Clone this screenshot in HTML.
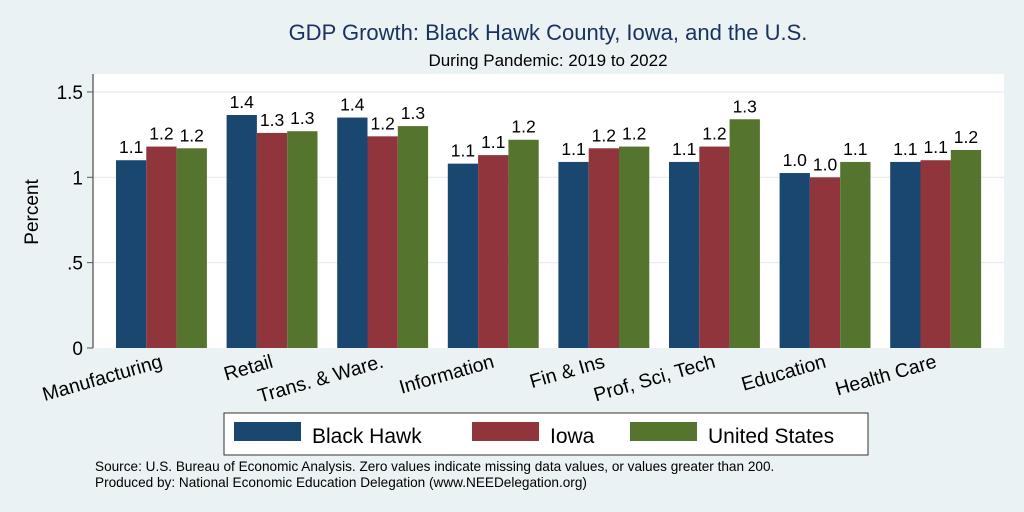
<!DOCTYPE html>
<html><head><meta charset="utf-8"><style>
body{margin:0;background:#eaf2f3;}
svg{display:block;font-family:"Liberation Sans",sans-serif;}
</style></head><body>
<svg id="c" width="1024" height="512">
<rect x="0" y="0" width="1024" height="512" fill="#eaf2f3"/>
<text x="548" y="40" font-size="22" fill="#1a3260" text-anchor="middle">GDP Growth: Black Hawk County, Iowa, and the U.S.</text>
<text x="548" y="66" font-size="17" fill="#000" text-anchor="middle">During Pandemic: 2019 to 2022</text>
<rect x="93" y="74" width="911" height="274" fill="#fff"/>
<text transform="translate(38,212) rotate(-90)" font-size="19" text-anchor="middle">Percent</text>
<g id="g"></g>
<rect x="224" y="413" width="644" height="42" fill="#fff" stroke="#333" stroke-width="1"/>
<g><rect x="234" y="422" width="67" height="19" fill="#1a476f"/><text x="312" y="443" font-size="21">Black Hawk</text></g>
<g><rect x="472" y="422" width="67" height="19" fill="#90353b"/><text x="550" y="443" font-size="21">Iowa</text></g>
<g><rect x="630" y="422" width="67" height="19" fill="#55752f"/><text x="708" y="443" font-size="21">United States</text></g>
<text x="95" y="471" font-size="13.6">Source: U.S. Bureau of Economic Analysis. Zero values indicate missing data values, or values greater than 200.</text>
<text x="95" y="487" font-size="13.6">Produced by: National Economic Education Delegation (www.NEEDelegation.org)</text>
</svg>
<script>
const categories=["Manufacturing","Retail","Trans. & Ware.","Information","Fin & Ins","Prof, Sci, Tech","Education","Health Care"];
const blackHawk=[1.10,1.365,1.35,1.08,1.09,1.09,1.025,1.09];
const iowa=[1.18,1.26,1.24,1.13,1.17,1.18,1.00,1.10];
const unitedStates=[1.17,1.27,1.30,1.22,1.18,1.34,1.09,1.16];
const yTicks=[0,0.5,1,1.5];
const yTickLabels=["0",".5","1","1.5"];
const NS="http://www.w3.org/2000/svg";
const g=document.getElementById("g");
const y=v=>348-v*170.7;
const x0=116,groupW=110.6,barW=30.3;
function mk(t,a){const e=document.createElementNS(NS,t);for(const k in a)e.setAttribute(k,a[k]);g.appendChild(e);return e;}
yTicks.forEach((t,i)=>{
 if(t>0){const l=mk("line",{x1:94,x2:1004,y1:y(t),y2:y(t),stroke:"#e6eef2","stroke-width":1.3});
 
 }
 const tk=mk("line",{x1:87,x2:93,y1:y(t),y2:y(t),stroke:"#555"});
 
 
 const tx=mk("text",{x:83,y:y(t)+7,"font-size":19,"text-anchor":"end"});
 tx.textContent=yTickLabels[i];
 
 
});
const ax=mk("line",{x1:93,x2:93,y1:74,y2:348,stroke:"#555","stroke-width":1.3});


const series=[[blackHawk,"#1a476f","black-hawk"],[iowa,"#90353b","iowa"],[unitedStates,"#55752f","united-states"]];
categories.forEach((c,i)=>{
 const gx=x0+i*groupW;
 series.forEach((s,j)=>{
  const v=s[0][i],bx=gx+j*barW;
  const r=mk("rect",{x:bx,y:y(v),width:barW,height:348-y(v),fill:s[1]});
  
  
  const t=mk("text",{x:bx+barW/2,y:y(v)-7,"font-size":17.5,"text-anchor":"middle"});
  t.textContent=v.toFixed(1);
  
  
 });
 const cx=gx+barW*1.5;
 const lt=mk("text",{transform:`translate(${cx+2},${367}) rotate(-16)`,"font-size":19.5,"text-anchor":"end"});
 lt.textContent=c;
 
 
});
</script>
</body></html>
